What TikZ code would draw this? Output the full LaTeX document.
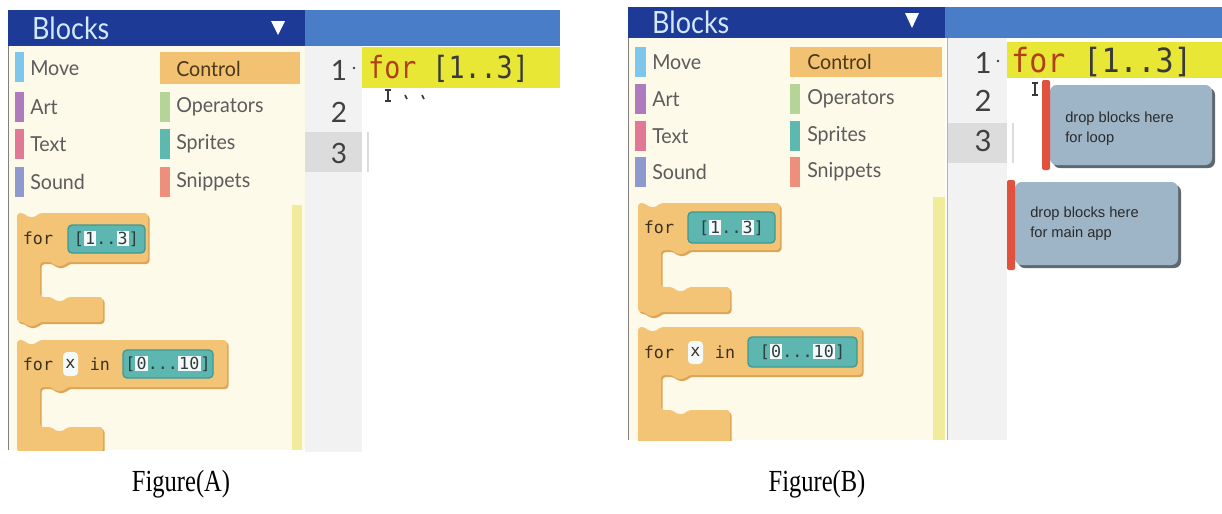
\documentclass[tikz,border=0pt]{standalone}
\usepackage{fontspec}
\setmainfont{Liberation Serif}
\newfontfamily\uifont{Lato}
\newfontfamily\codefont{DejaVu Sans Mono}
\newfontfamily\tipfont{Liberation Sans}

\definecolor{hdark}{HTML}{1C3A96}
\definecolor{hlight}{HTML}{4A7DC8}
\definecolor{hdrtext}{HTML}{D3E8FC}
\definecolor{cream}{HTML}{FDFAEA}
\definecolor{scroll}{HTML}{F1EC9C}
\definecolor{panelline}{HTML}{808080}
\definecolor{gutter}{HTML}{F2F2F2}
\definecolor{gutterhi}{HTML}{DCDCDC}
\definecolor{codehl}{HTML}{E9E736}
\definecolor{kwred}{HTML}{B0401C}
\definecolor{codegray}{HTML}{3A3A3A}
\definecolor{numtext}{HTML}{404040}
\definecolor{cattext}{HTML}{5C5C5C}
\definecolor{ctrlfill}{HTML}{F2C172}
\definecolor{ctrltext}{HTML}{4A3818}
\definecolor{movebar}{HTML}{7DC7EC}
\definecolor{artbar}{HTML}{B07ABF}
\definecolor{textbar}{HTML}{E07896}
\definecolor{soundbar}{HTML}{8E99CF}
\definecolor{opbar}{HTML}{B5D598}
\definecolor{spritebar}{HTML}{5DB8B0}
\definecolor{snipbar}{HTML}{EE8E7C}
\definecolor{blockfill}{HTML}{F3C376}
\definecolor{blockdark}{HTML}{DCA455}
\definecolor{tealbg}{HTML}{5EB6B0}
\definecolor{tealdark}{HTML}{3F9993}
\definecolor{pillwhite}{HTML}{F3FAF9}
\definecolor{blktext}{HTML}{3C3020}
\definecolor{tealtext}{HTML}{2E3E3E}
\definecolor{tipfill}{HTML}{9EB4C7}
\definecolor{tipshade}{HTML}{5E6870}
\definecolor{tipred}{HTML}{E0513E}
\definecolor{tipink}{HTML}{2A2A2A}

% white rounded value slot inside a block
\newcommand{\pill}[1]{{\setlength{\fboxsep}{0.9pt}\colorbox{pillwhite}{#1}}}

% outline of a C-shaped loop block:
% #1 left, #2 top, #3 header right, #4 header bottom, #5 mouth bottom, #6 foot right, #7 foot bottom
\newcommand{\ctrlshape}[7]{({#1},{#2}) -- ({#1+7},{#2}) -- ({#1+10},{#2+4}) -- ({#1+19},{#2+4}) -- ({#1+22},{#2}) -- ({#3},{#2}) -- ({#3},{#4}) -- ({#1+50},{#4}) -- ({#1+47},{#4+4}) -- ({#1+38},{#4+4}) -- ({#1+35},{#4}) -- ({#1+23},{#4}) -- ({#1+23},{#5}) -- ({#1+35},{#5}) -- ({#1+38},{#5+4}) -- ({#1+47},{#5+4}) -- ({#1+50},{#5}) -- ({#6},{#5}) -- ({#6},{#7}) -- ({#1+22},{#7}) -- ({#1+19},{#7+4}) -- ({#1+10},{#7+4}) -- ({#1+7},{#7}) -- ({#1},{#7}) -- cycle}
\newcommand{\ctrlblock}[7]{%
  \fill[blockshadow,shift={(1.5,2)}] \ctrlshape{#1}{#2}{#3}{#4}{#5}{#6}{#7};
  \fill[blockbody] \ctrlshape{#1}{#2}{#3}{#4}{#5}{#6}{#7};}

\tikzset{
  hdr/.style={font=\uifont\fontsize{23}{23}\selectfont, text=hdrtext, anchor=west, inner sep=0, xscale=0.88},
  cat/.style={font=\uifont\fontsize{15.5}{15.5}\selectfont, text=cattext, anchor=west, inner sep=0, xscale=0.95},
  lnum/.style={font=\uifont\fontsize{21}{21}\selectfont, text=numtext, inner sep=0},
  lnumb/.style={font=\uifont\fontsize{22}{22}\selectfont, text=numtext, inner sep=0},
  code/.style={font=\codefont\fontsize{23}{23}\selectfont, text=codegray, anchor=west, inner sep=0, xscale=0.87},
  codeb/.style={font=\codefont\fontsize{25}{25}\selectfont, text=codegray, anchor=west, inner sep=0, xscale=0.9},
  blk/.style={font=\codefont\fontsize{12.5}{12.5}\selectfont, text=blktext, inner sep=0},
  blkval/.style={font=\codefont\fontsize{12.5}{12.5}\selectfont, text=tealtext, inner sep=0},
  blockbody/.style={fill=blockfill, rounded corners=2.5pt},
  blockshadow/.style={fill=blockdark, rounded corners=2.5pt},
  tealbox/.style={fill=tealbg, draw=tealdark, line width=1pt, rounded corners=3pt},
  xslot/.style={fill=pillwhite, rounded corners=3pt},
  tipbox/.style={fill=tipfill, rounded corners=5pt},
  tipshadow/.style={fill=tipshade, rounded corners=5pt},
  tipbar/.style={fill=tipred, rounded corners=1.5pt},
  tiptext/.style={font=\tipfont\fontsize{11}{15}\selectfont, text=tipink, align=left, anchor=north west, inner sep=0},
  caption/.style={font=\fontsize{23}{23}\selectfont, xscale=0.8, inner sep=0},
  cursor/.style={draw=codegray, line width=0.9pt},
}

\begin{document}
\begin{tikzpicture}[x=0.75pt,y=-0.75pt]
\path[use as bounding box, fill=white] (0,0) rectangle (1222,514);

% ===================== left editor =====================
% palette
\fill[cream] (8,46) rectangle (305,450);
\fill[scroll] (292,205) rectangle (302,450);
\draw[panelline, line width=1pt] (8.5,46) -- (8.5,450);
% gutter and current line
\fill[gutter] (305,46) rectangle (362,452);
\fill[gutterhi] (305,132) rectangle (362,172);
\draw[gutterhi, line width=1pt] (368,132) -- (368,172);
\fill[codehl] (362,47) rectangle (560,88);
% title bar
\fill[hdark] (8,10) rectangle (305,46);
\fill[hlight] (305,10) rectangle (560,46);
\node[hdr] (aTitle) at (32,28) {Blocks};
\fill[white] (271,21) -- (285,21) -- (278,35) -- cycle;

% categories
\fill[movebar] (15,52) rectangle (24,82);
\fill[artbar] (15,92) rectangle (24,122);
\fill[textbar] (15,129) rectangle (24,159);
\fill[soundbar] (15,167) rectangle (24,197);
\node[cat] (aMove) at (30,68) {Move};
\node[cat] (aArt) at (30,107) {Art};
\node[cat] (aText) at (30,144) {Text};
\node[cat] (aSound) at (30,182) {Sound};
\fill[ctrlfill] (160,52) rectangle (300,84);
\fill[opbar] (160,92) rectangle (170,122);
\fill[spritebar] (160,129) rectangle (170,159);
\fill[snipbar] (160,167) rectangle (170,197);
\node[cat, text=ctrltext] (aControl) at (176,69) {Control};
\node[cat] (aOps) at (176,107) {Operators};
\node[cat] (aSprites) at (176,144) {Sprites};
\node[cat] (aSnip) at (176,182) {Snippets};

% loop blocks
\begin{scope}
\clip (9,46) rectangle (292,450);
\ctrlblock{17}{213}{148}{262}{297}{103}{322}
\ctrlblock{17}{340}{227}{387}{427}{103}{452}
\end{scope}
\node[blk] (aFor1) at (38,238) {for};
\fill[tealbox] (68,225) rectangle (145,253);
\node[blkval] (aRange1) at (106.5,239) {[\pill{1}..\pill{3}]};
\node[blk] (aFor2) at (38,364) {for};
\fill[xslot] (63,352) rectangle (78,376);
\node[blk] (aVar) at (70.5,364) {x};
\node[blk] (aIn) at (100,364) {in};
\fill[tealbox] (123,350) rectangle (213,378);
\node[blkval] (aRange2) at (168,364) {[\pill{0}...\pill{10}]};

% code lines
\node[lnum] (aL1) at (339,70) {1};
\fill[numtext] (354,68) circle (1.3);
\node[lnum] (aL2) at (339,112) {2};
\node[lnum] (aL3) at (339,153) {3};
\node[code] (aCode) at (368,69) {\textcolor{kwred}{for} [1..3]};
\draw[cursor] (388,90) -- (388,101) (385,90) -- (391,90) (385,101) -- (391,101);
\draw[cursor, line width=1.2pt] (405,95) -- (407,99) (422,95) -- (424,99);

\node[caption] (capA) at (181,484) {Figure(A)};

% ===================== right editor =====================
\fill[cream] (628,38) rectangle (945,440);
\fill[scroll] (933,197) rectangle (945,440);
\draw[panelline, line width=1pt] (628.5,38) -- (628.5,440);
\draw[panelline!60, line width=1pt] (947.5,38) -- (947.5,440);
\fill[gutter] (948,38) rectangle (1007,440);
\fill[gutterhi] (948,123) rectangle (1007,163);
\draw[gutterhi, line width=1pt] (1013,123) -- (1013,163);
\fill[codehl] (1007,42) rectangle (1222,78);
\fill[hdark] (628,7) rectangle (945,38);
\fill[hlight] (945,7) rectangle (1222,38);
\node[hdr] (bTitle) at (652,22) {Blocks};
\fill[white] (905,13) -- (919,13) -- (912,28) -- cycle;

\fill[movebar] (635,47) rectangle (646,77);
\fill[artbar] (635,84) rectangle (646,114);
\fill[textbar] (635,121) rectangle (646,151);
\fill[soundbar] (635,157) rectangle (646,187);
\node[cat] (bMove) at (652,62) {Move};
\node[cat] (bArt) at (652,99) {Art};
\node[cat] (bText) at (652,136) {Text};
\node[cat] (bSound) at (652,172) {Sound};
\fill[ctrlfill] (790,47) rectangle (942,77);
\fill[opbar] (790,84) rectangle (800,114);
\fill[spritebar] (790,121) rectangle (800,151);
\fill[snipbar] (790,157) rectangle (800,187);
\node[cat, text=ctrltext] (bControl) at (807,62) {Control};
\node[cat] (bOps) at (807,99) {Operators};
\node[cat] (bSprites) at (807,136) {Sprites};
\node[cat] (bSnip) at (807,172) {Snippets};

\begin{scope}
\clip (629,38) rectangle (933,440);
\ctrlblock{638}{203}{780}{250}{287}{730}{312}
\ctrlblock{638}{327}{862}{375}{410}{730}{445}
\end{scope}
\node[blk] (bFor1) at (659,227) {for};
\fill[tealbox] (688,212) rectangle (775,243);
\node[blkval] (bRange1) at (731.5,228) {[\pill{1}..\pill{3}]};
\node[blk] (bFor2) at (659,352) {for};
\fill[xslot] (688,341) rectangle (703,364);
\node[blk] (bVar) at (695.5,352) {x};
\node[blk] (bIn) at (725,352) {in};
\fill[tealbox] (748,337) rectangle (857,367);
\node[blkval] (bRange2) at (802.5,352) {[\pill{0}...\pill{10}]};

\node[lnumb] (bL1) at (983,63) {1};
\fill[numtext] (998,61) circle (1.3);
\node[lnumb] (bL2) at (983,101) {2};
\node[lnumb] (bL3) at (983,141) {3};
\node[codeb] (bCode) at (1011,62) {\textcolor{kwred}{for} [1..3]};
\draw[cursor] (1035,83) -- (1035,95) (1032,83) -- (1038,83) (1032,95) -- (1038,95);

% drop-zone hints
\fill[tipshadow] (1053,88) rectangle (1215,168);
\fill[tipbox] (1050,85) rectangle (1212,165);
\fill[tipbar] (1042,80) rectangle (1050,170);
\node[tiptext] (tipLoop) at (1065,112) {drop blocks here\\for loop};
\fill[tipshadow] (1018,185) rectangle (1181,268);
\fill[tipbox] (1015,182) rectangle (1178,265);
\fill[tipbar] (1007,180) rectangle (1015,270);
\node[tiptext] (tipMain) at (1030,207) {drop blocks here\\for main app};

\node[caption] (capB) at (817,484) {Figure(B)};
\end{tikzpicture}
\end{document}
